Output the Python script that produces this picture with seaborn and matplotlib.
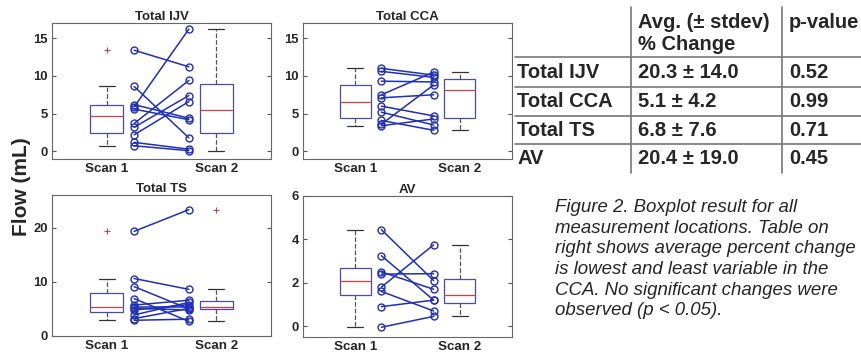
import numpy as np
import pandas as pd
import matplotlib
matplotlib.use("Agg")
import matplotlib.pyplot as plt
from matplotlib.lines import Line2D
import seaborn as sns

# -----------------------------
# Data (paired: scan1[i] -> scan2[i])
# -----------------------------
scans = ["Scan 1", "Scan 2"]

ijv_scan1 = [13.4, 8.6, 5.9, 6.2, 5.6, 3.7, 3.2, 2.2, 1.2, 0.75]
ijv_scan2 = [11.2, 1.8, 16.2, 4.4, 4.2, 9.4, 7.4, 6.6, 0.3, 0.1]

cca_scan1 = [11.0, 10.6, 9.3, 7.5, 7.1, 6.0, 5.2, 4.1, 3.6, 3.4]
cca_scan2 = [10.1, 9.8, 9.2, 10.5, 7.5, 4.7, 3.5, 2.8, 8.8, 4.3]

ts_scan1 = [19.3, 10.6, 9.1, 6.9, 5.7, 5.4, 5.1, 4.8, 3.9, 3.2, 2.9]
ts_scan2 = [23.3, 8.6, 5.0, 2.7, 6.6, 5.4, 4.8, 5.8, 6.2, 5.1, 3.1]

av_scan1 = [4.45, 3.25, 2.5, 2.4, 1.8, 1.6, 0.9, -0.05]
av_scan2 = [2.1, 1.2, 1.7, 2.42, 3.75, 0.7, 1.2, 0.45]

panel_titles = ["Total IJV", "Total CCA", "Total TS", "AV"]
panel_yticks = [[0, 5, 10, 15], [0, 5, 10, 15], [0, 10, 20], [0, 2, 4, 6]]
panel_ylims = [(-1, 17), (-1, 17), (0, 26), (-0.5, 6)]

# table
table_rows = ["Total IJV", "Total CCA", "Total TS", "AV"]
avg_change = ["20.3 \u00b1 14.0", "5.1 \u00b1 4.2", "6.8 \u00b1 7.6", "20.4 \u00b1 19.0"]
p_values = ["0.52", "0.99", "0.71", "0.45"]

caption = ("Figure 2. Boxplot result for all\n"
           "measurement locations. Table on\n"
           "right shows average percent change\n"
           "is lowest and least variable in the\n"
           "CCA. No significant changes were\n"
           "observed (p < 0.05).")

# -----------------------------
# Style
# -----------------------------
sns.set_style("white")
plt.rcParams["font.family"] = ["Liberation Sans", "DejaVu Sans"]

W, H = 861, 352
fig = plt.figure(figsize=(W / 100, H / 100), dpi=100)

# axes boxes in pixel coords (left, top, right, bottom)
boxes = [(52, 23, 271, 159), (303, 23, 512, 159),
         (52, 195, 271, 336), (303, 196, 512, 337)]

pairs = [(ijv_scan1, ijv_scan2), (cca_scan1, cca_scan2),
         (ts_scan1, ts_scan2), (av_scan1, av_scan2)]

box_edge = "#4a4aa8"
line_blue = "#1f2fb8"

for i, ((s1, s2), (l, t, r, b)) in enumerate(zip(pairs, boxes)):
    ax = fig.add_axes([l / W, 1 - b / H, (r - l) / W, (b - t) / H])
    df = pd.DataFrame({
        "scan": [scans[0]] * len(s1) + [scans[1]] * len(s2),
        "flow": list(s1) + list(s2),
    })
    sns.boxplot(data=df, x="scan", y="flow", order=scans, ax=ax, width=0.3,
                color="white", linewidth=0.9, whis=1.5,
                boxprops=dict(facecolor="white", edgecolor=box_edge, linewidth=0.9),
                medianprops=dict(color="#d04040", linewidth=0.9),
                whiskerprops=dict(color="#555555", linestyle="--", linewidth=0.9),
                capprops=dict(color="#333333", linewidth=0.9),
                flierprops=dict(marker="+", markeredgecolor="#c04848",
                                markerfacecolor="none", markersize=5, markeredgewidth=0.8))
    # paired lines between scans
    for a, c in zip(s1, s2):
        ax.plot([0.25, 0.75], [a, c], color=line_blue, lw=1.1,
                marker="o", markersize=5, markerfacecolor="none",
                markeredgecolor=line_blue, markeredgewidth=1.0)

    ax.set_xlim(-0.5, 1.5)
    ax.set_ylim(*panel_ylims[i])
    ax.set_yticks(panel_yticks[i])
    ax.set_xlabel("")
    ax.set_ylabel("")
    ax.set_title(panel_titles[i], fontsize=9.5, fontweight="bold", pad=2)
    ax.tick_params(axis="y", direction="in", length=3, right=True, left=True,
                   labelsize=9.4, pad=3, color="#555555")
    ax.tick_params(axis="x", length=0, labelsize=9.6, pad=3)
    for lab in ax.get_xticklabels() + ax.get_yticklabels():
        lab.set_fontweight("bold")
    for sp in ax.spines.values():
        sp.set_color("#666666")
        sp.set_linewidth(0.8)
        sp.set_visible(True)

fig.text(22 / W, 1 - 187 / H, "Flow (mL)", rotation=90, fontsize=15,
         fontweight="bold", ha="center", va="center")

# -----------------------------
# Table
# -----------------------------
tsize = 14.5
col_x = [517, 638, 789]
fig.text(col_x[1] / W, 1 - 23 / H, "Avg. (\u00b1 stdev)", fontsize=tsize,
         fontweight="bold", va="center", ha="left")
fig.text(col_x[1] / W, 1 - 44 / H, "% Change", fontsize=tsize,
         fontweight="bold", va="center", ha="left")
fig.text(col_x[2] / W, 1 - 23 / H, "p-value", fontsize=tsize,
         fontweight="bold", va="center", ha="left")
row_y = [72.7, 101.7, 130, 159]
for name, avg, p, y in zip(table_rows, avg_change, p_values, row_y):
    fig.text(col_x[0] / W, 1 - y / H, name, fontsize=tsize, fontweight="bold", va="center")
    fig.text(col_x[1] / W, 1 - y / H, avg, fontsize=tsize, fontweight="bold", va="center")
    fig.text(col_x[2] / W, 1 - y / H, p, fontsize=tsize, fontweight="bold", va="center")

for y in [57.3, 87.3, 116, 144]:
    fig.add_artist(Line2D([515 / W, 1.0], [1 - y / H, 1 - y / H],
                          color="#777777", lw=1.2, transform=fig.transFigure))
for x in [631, 782]:
    fig.add_artist(Line2D([x / W, x / W], [1 - 7 / H, 1 - 173 / H],
                          color="#777777", lw=1.2, transform=fig.transFigure))

# caption
fig.text(555 / W, 1 - 199 / H, caption, fontsize=13.4, fontstyle="italic",
         va="top", ha="left", linespacing=1.28)

fig.savefig("out.png", dpi=100)
